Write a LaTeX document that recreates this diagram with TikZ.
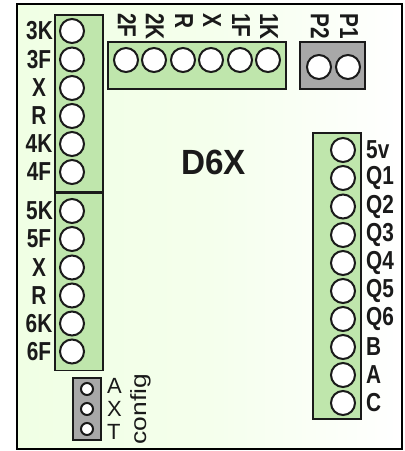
\documentclass[tikz,border=0pt]{standalone}
\usepackage{fontspec}
\setmainfont{Liberation Sans}
\definecolor{boardleft}{HTML}{F0FFE4}
\definecolor{strip}{HTML}{BFE6AC}
\definecolor{header}{HTML}{A8A8A8}
\definecolor{ink}{HTML}{1A1A1A}
\newcommand{\narrowtext}[1]{\scalebox{.8}[1]{#1}}
\newcommand{\widetext}[1]{\scalebox{1.2}[1]{#1}}
\tikzset{
  pad/.style={circle,draw=ink,line width=2pt,fill=white,minimum size=24pt,inner sep=0pt},
  smallpad/.style={circle,draw=ink,line width=2pt,fill=white,minimum size=12pt,inner sep=0pt},
  stripbox/.style={draw=ink,line width=1.8pt,fill=strip},
  graybox/.style={draw=ink,line width=1.8pt,fill=header},
  lab/.style={font=\fontsize{26}{26}\selectfont\bfseries,text=ink,inner sep=0pt},
  toplab/.style={lab,rotate=-90},
  thin lab/.style={font=\fontsize{22}{22}\selectfont,text=ink,inner sep=0pt},
}
\begin{document}
\begin{tikzpicture}[x=1pt,y=-1pt]
\useasboundingbox (0,0) rectangle (405,451);
\fill[white] (0,0) rectangle (405,451);
\shade[left color=boardleft,right color=white,middle color=boardleft!70!white,shading angle=90] (17,4) rectangle (402,449);
\draw[black,line width=2pt] (17,4) rectangle (402,449);
% strips
\node[stripbox,minimum width=48pt,minimum height=177pt,inner sep=0pt] (sa) at (79,103.5) {};
\node[stripbox,minimum width=48pt,minimum height=177pt,inner sep=0pt] (sb) at (79,282) {};
\node[stripbox,minimum width=178pt,minimum height=47pt,inner sep=0pt] (sc) at (197,65.5) {};
\node[graybox,minimum width=65pt,minimum height=47pt,inner sep=0pt] (sd) at (332.5,65.5) {};
\node[stripbox,minimum width=48pt,minimum height=286pt,inner sep=0pt] (se) at (337,276) {};
\node[graybox,minimum width=28pt,minimum height=62pt,inner sep=0pt] (sf) at (87,409) {};
% left pads and labels
\foreach \n/\y/\t in {a/31/3K,b/59.5/3F,c/88/X,d/116/R,e/144/4K,f/172/4F,g/211/5K,h/239/5F,i/267.5/X,j/295.5/R,k/323.5/6K,l/351.5/6F}{
  \node[pad] (p\n) at (72,\y) {};
}
\foreach \n/\y/\x/\t in {a/31/39.5/3K,b/59.5/39/3F,c/88/39/X,d/116/39/R,e/144/39/4K,f/172/39/4F,g/211/39.5/5K,h/239/39/5F,i/267.5/39/X,j/295.5/39/R,k/323.5/39/6K,l/351.5/39/6F}{
  \node[lab] (t\n) at (\x,\y) {\narrowtext{\t}};
}
% top pads and labels
\foreach \n/\x/\t in {a/127/2F,b/155/2K,c/184/R,d/212/X,e/241/1F,f/269/1K}{
  \node[pad] (q\n) at (\x-1,60) {};
  \node[toplab,anchor=west] (u\n) at (\x,13) {\narrowtext{\t}};
}
\node[pad] (r2) at (319,67) {};
\node[pad] (r1) at (348,67) {};
\node[toplab,anchor=west] (v2) at (320,13) {\narrowtext{P2}};
\node[toplab,anchor=west] (v1) at (349,13) {\narrowtext{P1}};
% right pads and labels
\foreach \n/\y/\t in {a/150/5v,b/178/Q1,c/206.5/Q2,d/235/Q3,e/263/Q4,f/291/Q5,g/319/Q6,h/347/B,i/375/A,j/403/C}{
  \node[pad] (s\n) at (343,\y) {};
  \node[lab,anchor=west] (w\n) at (366,\y) {\narrowtext{\t}};
}
% config header
\foreach \n/\y/\t in {a/386/A,b/409/X,c/432/T}{
  \node[thin lab,anchor=west] (x\n) at (107,\y) {\t};
}
\node[smallpad] (ca) at (87,389) {};
\node[smallpad] (cb) at (87,409) {};
\node[smallpad] (cc) at (87,429) {};
\node[thin lab,rotate=90] (cfg) at (141,409) {\widetext{config}};
\node[font=\fontsize{35}{35}\selectfont\bfseries,text=ink,inner sep=0pt] (title) at (213.5,162) {\scalebox{.95}[1]{D6X}};
\end{tikzpicture}
\end{document}
